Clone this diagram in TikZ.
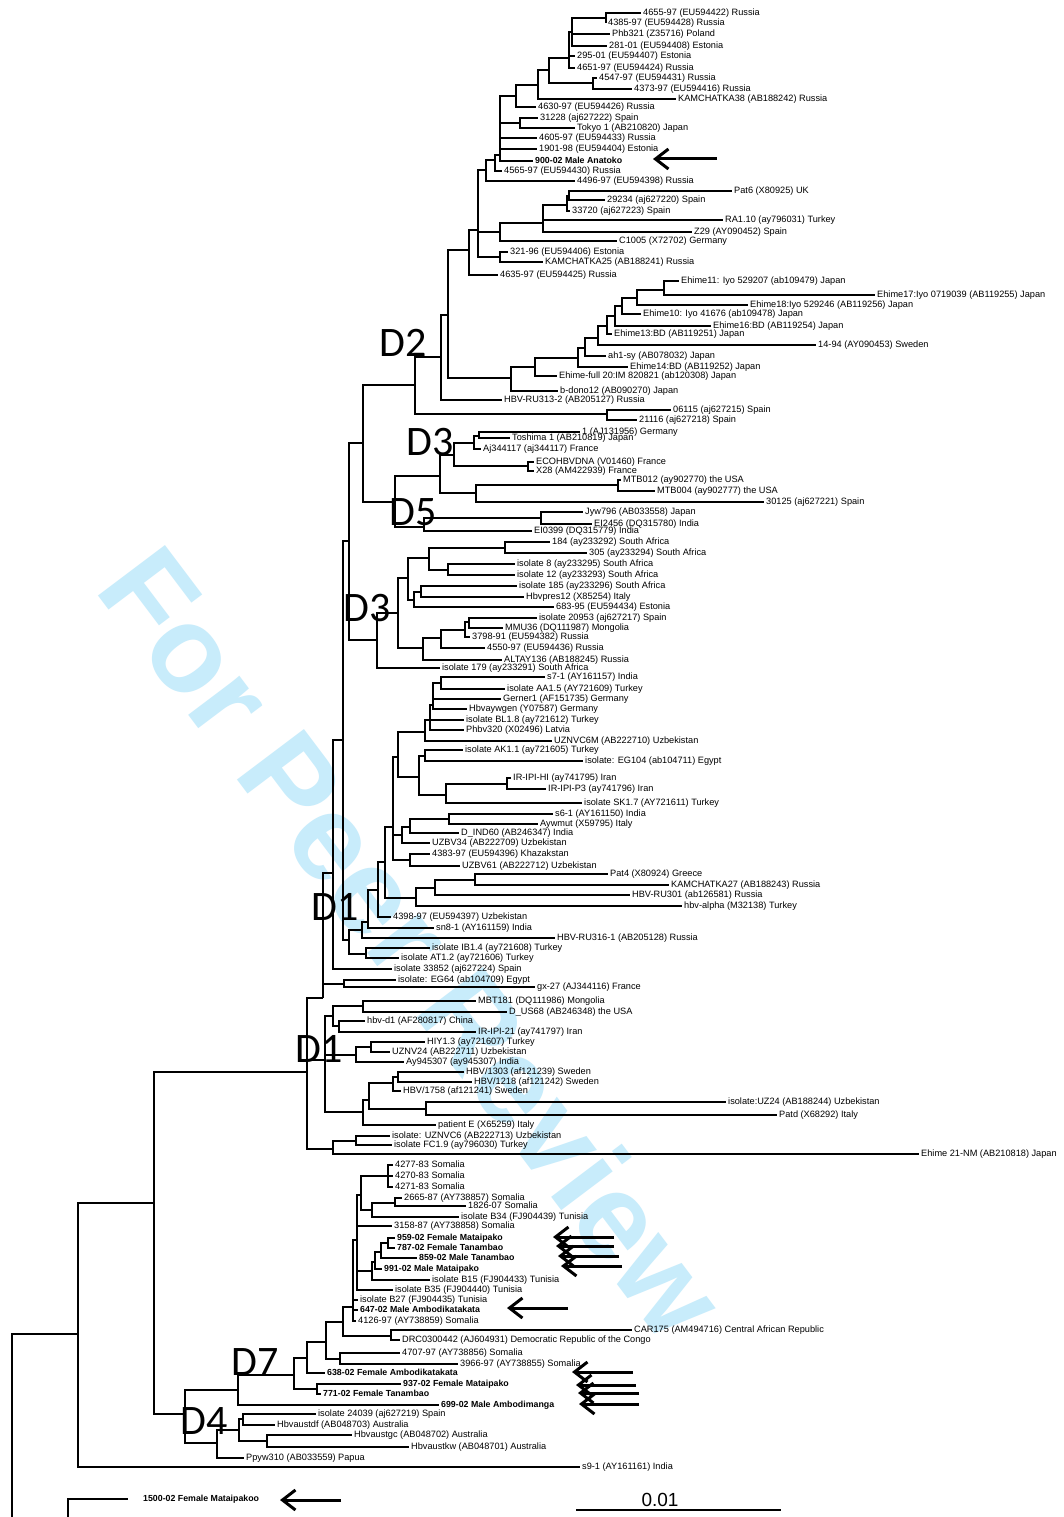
\documentclass[tikz,border=0pt]{standalone}
\usepackage{fontspec}
\setmainfont{Liberation Sans}
\newfontfamily\cladefont{Carlito}
\usepackage{tikz}
\usetikzlibrary{arrows.meta}
\definecolor{wmblue}{HTML}{C8ECFB}

\begin{document}
\begin{tikzpicture}[
  x=1pt, y=-1pt,
  leaf/.style={
    anchor=west,
    inner xsep=2pt,
    inner ysep=0pt,
    text height=6.5pt,
    text depth=1.8pt,
    font=\fontsize{9.2}{10}\selectfont
  },
  leafb/.style={leaf, font=\fontsize{8.8}{10}\selectfont\bfseries},
  branch/.style={line width=1.2pt},
  pointer/.style={-{Straight Barb[length=13pt,width=20pt]}, line width=3pt},
  clade/.style={font=\cladefont\fontsize{42}{44}\selectfont, inner sep=0pt},
  watermark/.style={rotate=-53, text=wmblue, font=\fontsize{122}{124}\selectfont\bfseries},
  scalelbl/.style={font=\fontsize{19}{20}\selectfont, inner sep=0pt}
]
  \useasboundingbox (0,0) rectangle (1064,1517);
  \fill[white] (0,0) rectangle (1064,1517);

  % Watermark
  \node[watermark] (wm) at (414,942) {For Peer Review};

  % Leaves: D2
  \node[leaf] (l1) at (641,13) {4655-97 (EU594422) Russia};
  \node[leaf] (l2) at (606,23) {4385-97 (EU594428) Russia};
  \node[leaf] (l3) at (610,34) {Phb321 (Z35716) Poland};
  \node[leaf] (l4) at (607,46) {281-01 (EU594408) Estonia};
  \node[leaf] (l5) at (575,56) {295-01 (EU594407) Estonia};
  \node[leaf] (l6) at (575,68) {4651-97 (EU594424) Russia};
  \node[leaf] (l7) at (597,78) {4547-97 (EU594431) Russia};
  \node[leaf] (l8) at (632,89) {4373-97 (EU594416) Russia};
  \node[leaf] (l9) at (676,99) {KAMCHATKA38 (AB188242) Russia};
  \node[leaf] (l10) at (536,107) {4630-97 (EU594426) Russia};
  \node[leaf] (l11) at (538,118) {31228 (aj627222) Spain};
  \node[leaf] (l12) at (575,128) {Tokyo 1 (AB210820) Japan};
  \node[leaf] (l13) at (537,138) {4605-97 (EU594433) Russia};
  \node[leaf] (l14) at (537,149) {1901-98 (EU594404) Estonia};
  \node[leafb] (l15) at (533,161) {900-02 Male Anatoko};
  \node[leaf] (l16) at (502,171) {4565-97 (EU594430) Russia};
  \node[leaf] (l17) at (575,181) {4496-97 (EU594398) Russia};
  \node[leaf] (l18) at (732,191) {Pat6 (X80925) UK};
  \node[leaf] (l19) at (605,200) {29234 (aj627220) Spain};
  \node[leaf] (l20) at (570,211) {33720 (aj627223) Spain};
  \node[leaf] (l21) at (723,220) {RA1.10 (ay796031) Turkey};
  \node[leaf] (l22) at (692,232) {Z29 (AY090452) Spain};
  \node[leaf] (l23) at (617,241) {C1005 (X72702) Germany};
  \node[leaf] (l24) at (508,252) {321-96 (EU594406) Estonia};
  \node[leaf] (l25) at (543,262) {KAMCHATKA25 (AB188241) Russia};
  \node[leaf] (l26) at (498,275) {4635-97 (EU594425) Russia};
  \node[leaf] (l27) at (679,281) {Ehime11: Iyo 529207 (ab109479) Japan};
  \node[leaf] (l28) at (875,295) {Ehime17:Iyo 0719039 (AB119255) Japan};
  \node[leaf] (l29) at (748,305) {Ehime18:Iyo 529246 (AB119256) Japan};
  \node[leaf] (l30) at (641,314) {Ehime10: Iyo 41676 (ab109478) Japan};
  \node[leaf] (l31) at (711,326) {Ehime16:BD (AB119254) Japan};
  \node[leaf] (l32) at (612,334) {Ehime13:BD (AB119251) Japan};
  \node[leaf] (l33) at (816,345) {14-94 (AY090453) Sweden};
  \node[leaf] (l34) at (606,356) {ah1-sy (AB078032) Japan};
  \node[leaf] (l35) at (628,367) {Ehime14:BD (AB119252) Japan};
  \node[leaf] (l36) at (557,376) {Ehime-full 20:IM 820821 (ab120308) Japan};
  \node[leaf] (l37) at (558,391) {b-dono12 (AB090270) Japan};
  \node[leaf] (l38) at (502,400) {HBV-RU313-2 (AB205127) Russia};
  \node[leaf] (l39) at (671,410) {06115 (aj627215) Spain};
  \node[leaf] (l40) at (637,420) {21116 (aj627218) Spain};

  % Leaves: D3, D5
  \node[leaf] (l41) at (580,432) {1 (AJ131956) Germany};
  \node[leaf] (l42) at (510,438) {Toshima 1 (AB210819) Japan};
  \node[leaf] (l43) at (481,449) {Aj344117 (aj344117) France};
  \node[leaf] (l44) at (534,462) {ECOHBVDNA (V01460) France};
  \node[leaf] (l45) at (534,471) {X28 (AM422939) France};
  \node[leaf] (l46) at (621,480) {MTB012 (ay902770) the USA};
  \node[leaf] (l47) at (655,491) {MTB004 (ay902777) the USA};
  \node[leaf] (l48) at (764,502) {30125 (aj627221) Spain};
  \node[leaf] (l49) at (583,512) {Jyw796 (AB033558) Japan};
  \node[leaf] (l50) at (592,524) {EI2456 (DQ315780) India};
  \node[leaf] (l51) at (532,531) {EI0399 (DQ315779) India};
  \node[leaf] (l52) at (550,542) {184 (ay233292) South Africa};
  \node[leaf] (l53) at (587,553) {305 (ay233294) South Africa};
  \node[leaf] (l54) at (515,564) {isolate 8 (ay233295) South Africa};
  \node[leaf] (l55) at (515,575) {isolate 12 (ay233293) South Africa};
  \node[leaf] (l56) at (517,586) {isolate 185 (ay233296) South Africa};
  \node[leaf] (l57) at (524,597) {Hbvpres12 (X85254) Italy};
  \node[leaf] (l58) at (554,607) {683-95 (EU594434) Estonia};
  \node[leaf] (l59) at (537,618) {isolate 20953 (aj627217) Spain};
  \node[leaf] (l60) at (503,628) {MMU36 (DQ111987) Mongolia};
  \node[leaf] (l61) at (470,637) {3798-91 (EU594382) Russia};
  \node[leaf] (l62) at (485,648) {4550-97 (EU594436) Russia};
  \node[leaf] (l63) at (502,660) {ALTAY136 (AB188245) Russia};
  \node[leaf] (l64) at (440,668) {isolate 179 (ay233291) South Africa};

  % Leaves: D1
  \node[leaf] (l65) at (545,677) {s7-1 (AY161157) India};
  \node[leaf] (l66) at (505,689) {isolate AA1.5 (AY721609) Turkey};
  \node[leaf] (l67) at (501,699) {Gerner1 (AF151735) Germany};
  \node[leaf] (l68) at (467,709) {Hbvaywgen (Y07587) Germany};
  \node[leaf] (l69) at (464,720) {isolate BL1.8 (ay721612) Turkey};
  \node[leaf] (l70) at (464,730) {Phbv320 (X02496) Latvia};
  \node[leaf] (l71) at (552,741) {UZNVC6M (AB222710) Uzbekistan};
  \node[leaf] (l72) at (463,750) {isolate AK1.1 (ay721605) Turkey};
  \node[leaf] (l73) at (583,761) {isolate: EG104 (ab104711) Egypt};
  \node[leaf] (l74) at (511,778) {IR-IPI-HI (ay741795) Iran};
  \node[leaf] (l75) at (546,789) {IR-IPI-P3 (ay741796) Iran};
  \node[leaf] (l76) at (582,803) {isolate SK1.7 (AY721611) Turkey};
  \node[leaf] (l77) at (553,814) {s6-1 (AY161150) India};
  \node[leaf] (l78) at (538,824) {Aywmut (X59795) Italy};
  \node[leaf] (l79) at (459,833) {D\_IND60 (AB246347) India};
  \node[leaf] (l80) at (430,843) {UZBV34 (AB222709) Uzbekistan};
  \node[leaf] (l81) at (430,854) {4383-97 (EU594396) Khazakstan};
  \node[leaf] (l82) at (460,866) {UZBV61 (AB222712) Uzbekistan};
  \node[leaf] (l83) at (608,874) {Pat4 (X80924) Greece};
  \node[leaf] (l84) at (669,885) {KAMCHATKA27 (AB188243) Russia};
  \node[leaf] (l85) at (630,895) {HBV-RU301 (ab126581) Russia};
  \node[leaf] (l86) at (682,906) {hbv-alpha (M32138) Turkey};
  \node[leaf] (l87) at (391,917) {4398-97 (EU594397) Uzbekistan};
  \node[leaf] (l88) at (434,928) {sn8-1 (AY161159) India};
  \node[leaf] (l89) at (555,938) {HBV-RU316-1 (AB205128) Russia};
  \node[leaf] (l90) at (430,948) {isolate IB1.4 (ay721608) Turkey};
  \node[leaf] (l91) at (399,958) {isolate AT1.2 (ay721606) Turkey};
  \node[leaf] (l92) at (392,969) {isolate 33852 (aj627224) Spain};
  \node[leaf] (l93) at (396,980) {isolate: EG64 (ab104709) Egypt};
  \node[leaf] (l94) at (535,987) {gx-27 (AJ344116) France};
  \node[leaf] (l95) at (476,1001) {MBT181 (DQ111986) Mongolia};
  \node[leaf] (l96) at (507,1012) {D\_US68 (AB246348) the USA};
  \node[leaf] (l97) at (365,1021) {hbv-d1 (AF280817) China};
  \node[leaf] (l98) at (476,1032) {IR-IPI-21 (ay741797) Iran};
  \node[leaf] (l99) at (425,1042) {HIY1.3 (ay721607) Turkey};
  \node[leaf] (l100) at (390,1052) {UZNV24 (AB222711) Uzbekistan};
  \node[leaf] (l101) at (404,1062) {Ay945307 (ay945307) India};
  \node[leaf] (l102) at (464,1072) {HBV/1303 (af121239) Sweden};
  \node[leaf] (l103) at (472,1082) {HBV/1218 (af121242) Sweden};
  \node[leaf] (l104) at (401,1091) {HBV/1758 (af121241) Sweden};
  \node[leaf] (l105) at (726,1102) {isolate:UZ24 (AB188244) Uzbekistan};
  \node[leaf] (l106) at (777,1115) {Patd (X68292) Italy};
  \node[leaf] (l107) at (436,1125) {patient E (X65259) Italy};
  \node[leaf] (l108) at (390,1136) {isolate: UZNVC6 (AB222713) Uzbekistan};
  \node[leaf] (l109) at (392,1145) {isolate FC1.9 (ay796030) Turkey};
  \node[leaf] (l110) at (919,1154) {Ehime 21-NM (AB210818) Japan};

  % Leaves: D7, D4
  \node[leaf] (l111) at (393,1165) {4277-83 Somalia};
  \node[leaf] (l112) at (393,1176) {4270-83 Somalia};
  \node[leaf] (l113) at (393,1187) {4271-83 Somalia};
  \node[leaf] (l114) at (402,1198) {2665-87 (AY738857) Somalia};
  \node[leaf] (l115) at (466,1206) {1826-07 Somalia};
  \node[leaf] (l116) at (459,1217) {isolate B34 (FJ904439) Tunisia};
  \node[leaf] (l117) at (392,1226) {3158-87 (AY738858) Somalia};
  \node[leafb] (l118) at (395,1238) {959-02 Female Mataipako};
  \node[leafb] (l119) at (395,1248) {787-02 Female Tanambao};
  \node[leafb] (l120) at (417,1258) {859-02 Male Tanambao};
  \node[leafb] (l121) at (382,1269) {991-02 Male Mataipako};
  \node[leaf] (l122) at (430,1280) {isolate B15 (FJ904433) Tunisia};
  \node[leaf] (l123) at (393,1290) {isolate B35 (FJ904440) Tunisia};
  \node[leaf] (l124) at (358,1300) {isolate B27 (FJ904435) Tunisia};
  \node[leafb] (l125) at (358,1310) {647-02 Male Ambodikatakata};
  \node[leaf] (l126) at (356,1321) {4126-97 (AY738859) Somalia};
  \node[leaf] (l127) at (632,1330) {CAR175 (AM494716) Central African Republic};
  \node[leaf] (l128) at (400,1340) {DRC0300442 (AJ604931) Democratic Republic of the Congo};
  \node[leaf] (l129) at (400,1353) {4707-97 (AY738856) Somalia};
  \node[leaf] (l130) at (458,1364) {3966-97 (AY738855) Somalia};
  \node[leafb] (l131) at (325,1373) {638-02 Female Ambodikatakata};
  \node[leafb] (l132) at (401,1384) {937-02 Female Mataipako};
  \node[leafb] (l133) at (321,1394) {771-02 Female Tanambao};
  \node[leafb] (l134) at (439,1405) {699-02 Male Ambodimanga};
  \node[leaf] (l135) at (316,1414) {isolate 24039 (aj627219) Spain};
  \node[leaf] (l136) at (275,1425) {Hbvaustdf (AB048703) Australia};
  \node[leaf] (l137) at (352,1435) {Hbvaustgc (AB048702) Australia};
  \node[leaf] (l138) at (409,1447) {Hbvaustkw (AB048701) Australia};
  \node[leaf] (l139) at (244,1458) {Ppyw310 (AB033559) Papua};
  \node[leaf] (l140) at (580,1467) {s9-1 (AY161161) India};
  \node[leafb, inner xsep=15pt] (l141) at (128,1499) {1500-02 Female Mataipakoo};

  % Internal nodes: D2
  \coordinate (a1) at (606,18);
  \coordinate (a2) at (572,32);
  \coordinate (a3) at (569,58);
  \coordinate (a4) at (593,83);
  \coordinate (a5) at (549,70);
  \coordinate (a6) at (538,85);
  \coordinate (a7) at (516,96);
  \coordinate (a8) at (520,123);
  \coordinate (a9) at (500,155);
  \coordinate (a10) at (495,160);
  \coordinate (a11) at (486,170);
  \coordinate (b1) at (569,196);
  \coordinate (b2) at (567,205);
  \coordinate (b3) at (543,223);
  \coordinate (b4) at (500,232);
  \coordinate (a12) at (500,257);
  \coordinate (a13) at (478,230);
  \coordinate (a14) at (469,250);
  \coordinate (e1) at (664,290);
  \coordinate (e2) at (637,298);
  \coordinate (e3) at (622,306);
  \coordinate (e4) at (615,316);
  \coordinate (e5) at (607,326);
  \coordinate (e6) at (598,338);
  \coordinate (e7) at (585,348);
  \coordinate (e8) at (578,358);
  \coordinate (e9) at (535,367);
  \coordinate (e10) at (511,378);
  \coordinate (u1) at (448,315);
  \coordinate (u2) at (441,357);
  \coordinate (f1) at (607,414);
  \coordinate (d2n) at (415,385);

  % Internal nodes: D3, D5
  \coordinate (g1) at (479,436);
  \coordinate (g2) at (474,443);
  \coordinate (g3) at (528,466);
  \coordinate (g4) at (454,455);
  \coordinate (g5) at (618,485);
  \coordinate (g6) at (476,493);
  \coordinate (d3a) at (440,476);
  \coordinate (g7) at (541,518);
  \coordinate (d5n) at (424,527);
  \coordinate (g8) at (395,502);
  \coordinate (h1) at (363,443);
  \coordinate (k1) at (505,548);
  \coordinate (k2) at (448,570);
  \coordinate (k3) at (429,558);
  \coordinate (k4) at (421,592);
  \coordinate (k5) at (414,600);
  \coordinate (k6) at (408,578);
  \coordinate (k7) at (469,622);
  \coordinate (k8) at (465,630);
  \coordinate (k9) at (441,638);
  \coordinate (k10) at (423,648);
  \coordinate (k11) at (398,613);
  \coordinate (d3b) at (377,640);
  \coordinate (h2) at (349,541);

  % Internal nodes: D1
  \coordinate (m1) at (441,683);
  \coordinate (m2) at (433,705);
  \coordinate (m3) at (430,720);
  \coordinate (m4) at (425,732);
  \coordinate (m5) at (425,756);
  \coordinate (m6) at (507,784);
  \coordinate (m7) at (446,795);
  \coordinate (m8) at (419,777);
  \coordinate (m9) at (398,757);
  \coordinate (n1) at (449,819);
  \coordinate (n2) at (410,827);
  \coordinate (n3) at (402,835);
  \coordinate (n4) at (410,860);
  \coordinate (n5) at (393,827);
  \coordinate (p1) at (475,880);
  \coordinate (p2) at (435,888);
  \coordinate (p3) at (416,898);
  \coordinate (n6) at (385,862);
  \coordinate (n7) at (378,890);
  \coordinate (n8) at (368,922);
  \coordinate (n9) at (362,930);
  \coordinate (n10) at (366,954);
  \coordinate (n11) at (349,940);
  \coordinate (x0) at (343,740);
  \coordinate (n12) at (333,873);
  \coordinate (q1) at (344,984);
  \coordinate (n13) at (323,998);
  \coordinate (r1) at (363,1006);
  \coordinate (r2) at (339,1026);
  \coordinate (r3) at (333,1016);
  \coordinate (r4) at (371,1047);
  \coordinate (r5) at (356,1055);
  \coordinate (r6) at (398,1077);
  \coordinate (r6b) at (393,1083);
  \coordinate (r7) at (426,1109);
  \coordinate (r8) at (369,1100);
  \coordinate (r9) at (363,1112);
  \coordinate (r10) at (325,1060);
  \coordinate (r11) at (356,1141);
  \coordinate (r12) at (333,1149);
  \coordinate (d1n) at (307,1072);

  % Internal nodes: D7, D4, root
  \coordinate (t1) at (388,1176);
  \coordinate (t2) at (395,1203);
  \coordinate (t3) at (372,1210);
  \coordinate (t4) at (361,1195);
  \coordinate (t5) at (388,1243);
  \coordinate (t6) at (381,1252);
  \coordinate (t7) at (375,1262);
  \coordinate (t8) at (372,1271);
  \coordinate (t10) at (357,1240);
  \coordinate (t11) at (353,1307);
  \coordinate (t12b) at (391,1336);
  \coordinate (t12) at (343,1322);
  \coordinate (t14) at (340,1359);
  \coordinate (t13) at (326,1342);
  \coordinate (t15) at (307,1358);
  \coordinate (t16) at (317,1389);
  \coordinate (t17) at (294,1375);
  \coordinate (d7n) at (238,1390);
  \coordinate (w1) at (243,1419);
  \coordinate (w2) at (267,1441);
  \coordinate (w3) at (239,1430);
  \coordinate (w4) at (217,1443);
  \coordinate (d4n) at (185,1414);
  \coordinate (bb1) at (154,1203);
  \coordinate (bb2) at (78,1334);
  \coordinate (rootbot) at (12,1517);
  \coordinate (outbot) at (68,1517);

  % Branches: D2
  \draw[branch] (a1) |- (l1) (a1) |- (l2);
  \draw[branch] (a2) |- (a1) (a2) |- (l3) (a2) |- (l4);
  \draw[branch] (a3) |- (a2) (a3) |- (l5) (a3) |- (l6);
  \draw[branch] (a4) |- (l7) (a4) |- (l8);
  \draw[branch] (a5) |- (a3) (a5) |- (a4);
  \draw[branch] (a6) |- (a5) (a6) |- (l9);
  \draw[branch] (a7) |- (a6) (a7) |- (l10);
  \draw[branch] (a8) |- (l11) (a8) |- (l12);
  \draw[branch] (a9) |- (a7) (a9) |- (a8) (a9) |- (l13) (a9) |- (l14) (a9) |- (l15);
  \draw[branch] (a10) |- (a9) (a10) |- (l16);
  \draw[branch] (a11) |- (a10) (a11) |- (l17);
  \draw[branch] (b1) |- (l18) (b1) |- (l19);
  \draw[branch] (b2) |- (b1) (b2) |- (l20);
  \draw[branch] (b3) |- (b2) (b3) |- (l21) (b3) |- (l22);
  \draw[branch] (b4) |- (b3) (b4) |- (l23);
  \draw[branch] (a12) |- (l24) (a12) |- (l25);
  \draw[branch] (a13) |- (a11) (a13) |- (b4) (a13) |- (a12);
  \draw[branch] (a14) |- (a13) (a14) |- (l26);
  \draw[branch] (e1) |- (l27) (e1) |- (l28);
  \draw[branch] (e2) |- (e1) (e2) |- (l29);
  \draw[branch] (e3) |- (e2) (e3) |- (l30);
  \draw[branch] (e4) |- (e3) (e4) |- (l31);
  \draw[branch] (e5) |- (e4) (e5) |- (l32);
  \draw[branch] (e6) |- (e5) (e6) |- (l33);
  \draw[branch] (e7) |- (e6) (e7) |- (l34);
  \draw[branch] (e8) |- (e7) (e8) |- (l35);
  \draw[branch] (e9) |- (e8) (e9) |- (l36);
  \draw[branch] (e10) |- (e9) (e10) |- (l37);
  \draw[branch] (u1) |- (a14) (u1) |- (e10);
  \draw[branch] (u2) |- (u1) (u2) |- (l38);
  \draw[branch] (f1) |- (l39) (f1) |- (l40);
  \draw[branch] (d2n) |- (u2) (d2n) |- (f1);

  % Branches: D3, D5
  \draw[branch] (g1) |- (l41) (g1) |- (l42);
  \draw[branch] (g2) |- (g1) (g2) |- (l43);
  \draw[branch] (g3) |- (l44) (g3) |- (l45);
  \draw[branch] (g4) |- (g2) (g4) |- (g3);
  \draw[branch] (g5) |- (l46) (g5) |- (l47);
  \draw[branch] (g6) |- (g5) (g6) |- (l48);
  \draw[branch] (d3a) |- (g4) (d3a) |- (g6);
  \draw[branch] (g7) |- (l49) (g7) |- (l50);
  \draw[branch] (d5n) |- (g7) (d5n) |- (l51);
  \draw[branch] (g8) |- (d3a) (g8) |- (d5n);
  \draw[branch] (h1) |- (d2n) (h1) |- (g8);
  \draw[branch] (k1) |- (l52) (k1) |- (l53);
  \draw[branch] (k2) |- (l54) (k2) |- (l55);
  \draw[branch] (k3) |- (k1) (k3) |- (k2);
  \draw[branch] (k4) |- (l56) (k4) |- (l57);
  \draw[branch] (k5) |- (k4) (k5) |- (l58);
  \draw[branch] (k6) |- (k3) (k6) |- (k5);
  \draw[branch] (k7) |- (l59) (k7) |- (l60);
  \draw[branch] (k8) |- (k7) (k8) |- (l61);
  \draw[branch] (k9) |- (k8) (k9) |- (l62);
  \draw[branch] (k10) |- (k9) (k10) |- (l63);
  \draw[branch] (k11) |- (k6) (k11) |- (k10);
  \draw[branch] (d3b) |- (k11) (d3b) |- (l64);
  \draw[branch] (h2) |- (h1) (h2) |- (d3b);

  % Branches: D1
  \draw[branch] (m1) |- (l65) (m1) |- (l66);
  \draw[branch] (m2) |- (m1) (m2) |- (l67) (m2) |- (l68);
  \draw[branch] (m3) |- (m2) (m3) |- (l69) (m3) |- (l70);
  \draw[branch] (m4) |- (m3) (m4) |- (l71);
  \draw[branch] (m5) |- (l72) (m5) |- (l73);
  \draw[branch] (m6) |- (l74) (m6) |- (l75);
  \draw[branch] (m7) |- (m6) (m7) |- (l76);
  \draw[branch] (m8) |- (m5) (m8) |- (m7);
  \draw[branch] (m9) |- (m4) (m9) |- (m8);
  \draw[branch] (n1) |- (l77) (n1) |- (l78);
  \draw[branch] (n2) |- (n1) (n2) |- (l79);
  \draw[branch] (n3) |- (n2) (n3) |- (l80);
  \draw[branch] (n4) |- (l81) (n4) |- (l82);
  \draw[branch] (n5) |- (m9) (n5) |- (n3) (n5) |- (n4);
  \draw[branch] (p1) |- (l83) (p1) |- (l84);
  \draw[branch] (p2) |- (p1) (p2) |- (l85);
  \draw[branch] (p3) |- (p2) (p3) |- (l86);
  \draw[branch] (n6) |- (n5) (n6) |- (p3);
  \draw[branch] (n7) |- (n6) (n7) |- (l87);
  \draw[branch] (n8) |- (n7) (n8) |- (l88);
  \draw[branch] (n9) |- (n8) (n9) |- (l89);
  \draw[branch] (n10) |- (l90) (n10) |- (l91);
  \draw[branch] (n11) |- (n9) (n11) |- (n10);
  \draw[branch] (x0) |- (h2) (x0) |- (n11);
  \draw[branch] (n12) |- (x0) (n12) |- (l92);
  \draw[branch] (q1) |- (l93) (q1) |- (l94);
  \draw[branch] (n13) |- (n12) (n13) |- (q1);
  \draw[branch] (r1) |- (l95) (r1) |- (l96);
  \draw[branch] (r2) |- (l97) (r2) |- (l98);
  \draw[branch] (r3) |- (r1) (r3) |- (r2);
  \draw[branch] (r4) |- (l99) (r4) |- (l100);
  \draw[branch] (r5) |- (r4) (r5) |- (l101);
  \draw[branch] (r6) |- (l102) (r6) |- (l103);
  \draw[branch] (r6b) |- (r6) (r6b) |- (l104);
  \draw[branch] (r7) |- (l105) (r7) |- (l106);
  \draw[branch] (r8) |- (r6b) (r8) |- (r7);
  \draw[branch] (r9) |- (r8) (r9) |- (l107);
  \draw[branch] (r10) |- (r3) (r10) |- (r5) (r10) |- (r9);
  \draw[branch] (r11) |- (l108) (r11) |- (l109);
  \draw[branch] (r12) |- (r11) (r12) |- (l110);
  \draw[branch] (d1n) |- (n13) (d1n) |- (r10) (d1n) |- (r12);

  % Branches: D7, D4, root
  \draw[branch] (t1) |- (l111) (t1) |- (l112) (t1) |- (l113);
  \draw[branch] (t2) |- (l114) (t2) |- (l115);
  \draw[branch] (t3) |- (t2) (t3) |- (l116);
  \draw[branch] (t4) |- (t1) (t4) |- (t3);
  \draw[branch] (t5) |- (l118) (t5) |- (l119);
  \draw[branch] (t6) |- (t5) (t6) |- (l120);
  \draw[branch] (t7) |- (t6) (t7) |- (l121);
  \draw[branch] (t8) |- (t7) (t8) |- (l122);
  \draw[branch] (t10) |- (t4) (t10) |- (l117) (t10) |- (t8) (t10) |- (l123);
  \draw[branch] (t11) |- (t10) (t11) |- (l124) (t11) |- (l125) (t11) |- (l126);
  \draw[branch] (t12b) |- (l127) (t12b) |- (l128);
  \draw[branch] (t12) |- (t11) (t12) |- (t12b);
  \draw[branch] (t14) |- (l129) (t14) |- (l130);
  \draw[branch] (t13) |- (t12) (t13) |- (t14);
  \draw[branch] (t15) |- (t13) (t15) |- (l131);
  \draw[branch] (t16) |- (l132) (t16) |- (l133);
  \draw[branch] (t17) |- (t15) (t17) |- (t16);
  \draw[branch] (d7n) |- (t17) (d7n) |- (l134);
  \draw[branch] (w1) |- (l135) (w1) |- (l136);
  \draw[branch] (w2) |- (l137) (w2) |- (l138);
  \draw[branch] (w3) |- (w1) (w3) |- (w2);
  \draw[branch] (w4) |- (w3) (w4) |- (l139);
  \draw[branch] (d4n) |- (d7n) (d4n) |- (w4);
  \draw[branch] (bb1) |- (d1n) (bb1) |- (d4n);
  \draw[branch] (bb2) |- (bb1) (bb2) |- (l140);
  \draw[branch] (rootbot) |- (bb2);
  \draw[branch] (outbot) |- (l141);

  % Clade labels
  \node[clade] (labd2) at (403,343) {D2};
  \node[clade] (labd3a) at (430,442) {D3};
  \node[clade] (labd5) at (413,512) {D5};
  \node[clade] (labd3b) at (367,608) {D3};
  \node[clade] (labd1a) at (335,907) {D1};
  \node[clade] (labd1b) at (319,1049) {D1};
  \node[clade] (labd7) at (255,1362) {D7};
  \node[clade] (labd4) at (204,1421) {D4};

  % Arrows to the Madagascar samples
  \coordinate (tail1) at (717,159);  \coordinate (head1) at (653,159);
  \coordinate (tail2) at (614,1237); \coordinate (head2) at (553,1237);
  \coordinate (tail3) at (614,1246); \coordinate (head3) at (556,1246);
  \coordinate (tail4) at (619,1256); \coordinate (head4) at (558,1256);
  \coordinate (tail5) at (622,1266); \coordinate (head5) at (561,1266);
  \coordinate (tail6) at (568,1308); \coordinate (head6) at (507,1308);
  \coordinate (tail7) at (633,1372); \coordinate (head7) at (572,1372);
  \coordinate (tail8) at (636,1385); \coordinate (head8) at (576,1385);
  \coordinate (tail9) at (639,1393); \coordinate (head9) at (578,1393);
  \coordinate (tail10) at (639,1404); \coordinate (head10) at (579,1404);
  \coordinate (tail11) at (341,1500); \coordinate (head11) at (280,1500);
  \draw[pointer] (tail1) -- (head1);
  \draw[pointer] (tail2) -- (head2);
  \draw[pointer] (tail3) -- (head3);
  \draw[pointer] (tail4) -- (head4);
  \draw[pointer] (tail5) -- (head5);
  \draw[pointer] (tail6) -- (head6);
  \draw[pointer] (tail7) -- (head7);
  \draw[pointer] (tail8) -- (head8);
  \draw[pointer] (tail9) -- (head9);
  \draw[pointer] (tail10) -- (head10);
  \draw[pointer] (tail11) -- (head11);

  % Scale bar
  \coordinate (sbl) at (576,1510);
  \coordinate (sbr) at (781,1510);
  \draw[branch] (sbl) -- (sbr);
  \node[scalelbl] (sbt) at (660,1500) {0.01};
\end{tikzpicture}
\end{document}
